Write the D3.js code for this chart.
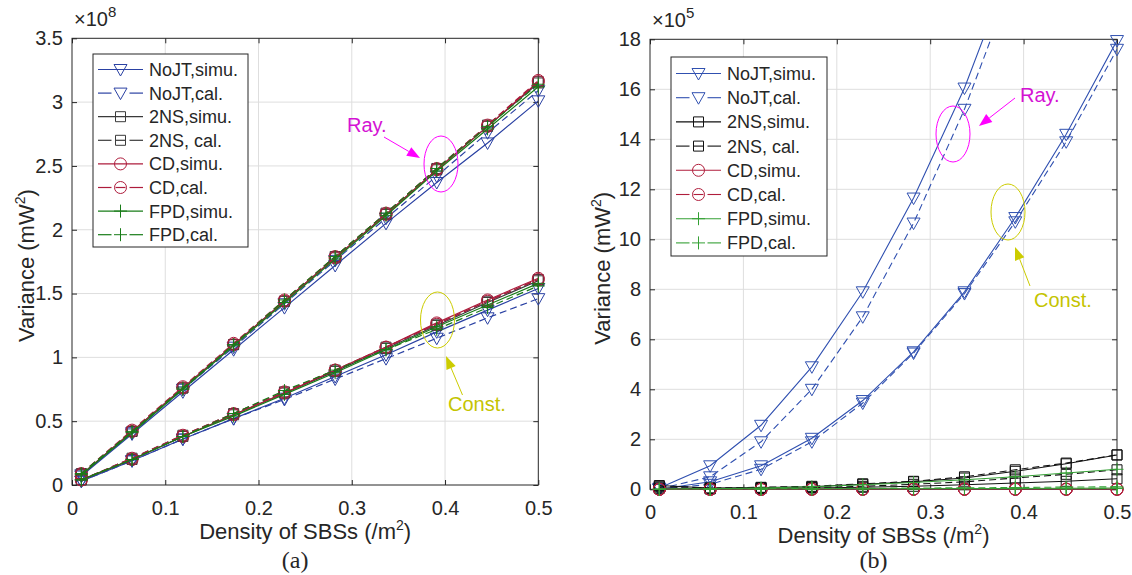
<!DOCTYPE html>
<html><head><meta charset="utf-8">
<script src="https://cdn.jsdelivr.net/npm/d3@7/dist/d3.min.js"></script>
<style>
body{margin:0;background:#fff}
text{font-family:"Liberation Sans",Arial,Helvetica,sans-serif;fill:#262626}
</style>
</head><body>
<svg id="c" width="1132" height="575"></svg>
<script>
// ---------------- data ----------------
const xVals = [0.01, 0.0644, 0.1189, 0.1733, 0.2278, 0.2822, 0.3367, 0.3911, 0.4456, 0.5];
const xTicks = [0, 0.1, 0.2, 0.3, 0.4, 0.5];
const xTickLabels = ["0", "0.1", "0.2", "0.3", "0.4", "0.5"];

// panel (a) ×1e8
const aYTicks = [0, 0.5, 1, 1.5, 2, 2.5, 3, 3.5];
const aYTickLabels = ["0", "0.5", "1", "1.5", "2", "2.5", "3", "3.5"];
const aNoJTSimuRay   = [0.07, 0.40, 0.73, 1.06, 1.39, 1.72, 2.05, 2.37, 2.68, 3.01];
const aNoJTCalRay    = [0.08, 0.41, 0.75, 1.08, 1.42, 1.76, 2.09, 2.42, 2.76, 3.09];
const aNoJTSimuConst = [0.03, 0.19, 0.36, 0.52, 0.68, 0.85, 1.02, 1.20, 1.37, 1.54];
const aNoJTCalConst  = [0.03, 0.19, 0.36, 0.52, 0.67, 0.83, 0.99, 1.15, 1.31, 1.46];
const a2NSSimuRay    = [0.08, 0.42, 0.76, 1.10, 1.44, 1.78, 2.12, 2.47, 2.81, 3.15];
const a2NSCalRay     = [0.09, 0.42, 0.76, 1.10, 1.44, 1.79, 2.13, 2.48, 2.82, 3.16];
const a2NSSimuConst  = [0.04, 0.20, 0.38, 0.55, 0.72, 0.89, 1.07, 1.25, 1.43, 1.60];
const a2NSCalConst   = [0.04, 0.21, 0.39, 0.56, 0.73, 0.90, 1.08, 1.26, 1.44, 1.61];
const aCDSimuRay     = [0.08, 0.42, 0.76, 1.10, 1.44, 1.78, 2.12, 2.47, 2.81, 3.16];
const aCDCalRay      = [0.09, 0.43, 0.77, 1.11, 1.45, 1.79, 2.13, 2.48, 2.82, 3.17];
const aCDSimuConst   = [0.04, 0.20, 0.38, 0.55, 0.72, 0.90, 1.08, 1.27, 1.45, 1.62];
const aCDCalConst    = [0.04, 0.21, 0.39, 0.56, 0.73, 0.90, 1.08, 1.26, 1.44, 1.61];
const aFPDSimuRay    = [0.08, 0.41, 0.75, 1.09, 1.43, 1.77, 2.11, 2.46, 2.79, 3.12];
const aFPDCalRay     = [0.09, 0.42, 0.76, 1.10, 1.45, 1.79, 2.13, 2.48, 2.81, 3.14];
const aFPDSimuConst  = [0.04, 0.20, 0.38, 0.54, 0.71, 0.88, 1.06, 1.24, 1.41, 1.58];
const aFPDCalConst   = [0.04, 0.20, 0.38, 0.56, 0.74, 0.90, 1.06, 1.22, 1.39, 1.56];

// panel (b) ×1e5
const bYTicks = [0, 2, 4, 6, 8, 10, 12, 14, 16, 18];
const bYTickLabels = ["0", "2", "4", "6", "8", "10", "12", "14", "16", "18"];
const bNoJTSimuRay   = [0.05, 0.94, 2.56, 4.9, 7.9, 11.65, 16.05, 21.4, 27.5, 34.5];
const bNoJTCalRay    = [0.02, 0.50, 1.90, 4.0, 6.9, 10.65, 15.2, 20.6, 26.7, 33.5];
const bNoJTSimuConst = [0.0, 0.30, 0.94, 2.04, 3.55, 5.5, 7.9, 10.87, 14.2, 17.95];
const bNoJTCalConst  = [0.0, 0.20, 0.80, 1.90, 3.45, 5.45, 7.83, 10.7, 13.9, 17.6];
const b2NSSimuRay    = [0.15, 0.05, 0.07, 0.10, 0.20, 0.30, 0.45, 0.72, 1.02, 1.37];
const b2NSCalRay     = [0.12, 0.05, 0.08, 0.12, 0.22, 0.32, 0.50, 0.78, 1.05, 1.38];
const b2NSSimuConst  = [0.05, 0.02, 0.03, 0.05, 0.08, 0.12, 0.18, 0.25, 0.32, 0.42];
const b2NSCalConst   = [0.05, 0.02, 0.04, 0.07, 0.12, 0.20, 0.30, 0.45, 0.60, 0.78];
const bCDSimuRay     = [0.0, 0.0, 0.0, 0.01, 0.01, 0.01, 0.01, 0.01, 0.01, 0.01];
const bCDCalRay      = [0.0, 0.0, 0.0, 0.01, 0.01, 0.01, 0.01, 0.01, 0.01, 0.01];
const bCDSimuConst   = [0.0, 0.0, 0.0, 0.0, 0.0, 0.0, 0.0, 0.0, 0.0, 0.0];
const bCDCalConst    = [0.0, 0.0, 0.0, 0.0, 0.0, 0.0, 0.0, 0.0, 0.0, 0.0];
const bFPDSimuRay    = [0.0, 0.02, 0.05, 0.10, 0.18, 0.27, 0.38, 0.50, 0.65, 0.80];
const bFPDCalRay     = [0.0, 0.01, 0.02, 0.03, 0.04, 0.05, 0.06, 0.07, 0.09, 0.10];
const bFPDSimuConst  = [0.0, 0.0, 0.01, 0.01, 0.02, 0.02, 0.03, 0.03, 0.04, 0.05];
const bFPDCalConst   = [0.0, 0.0, 0.0, 0.01, 0.01, 0.01, 0.02, 0.02, 0.02, 0.03];

const legendLabels = ["NoJT,simu.", "NoJT,cal.", "2NS,simu.", "2NS, cal.", "CD,simu.", "CD,cal.", "FPD,simu.", "FPD,cal."];

// ---------------- drawing ----------------
const svg = d3.select("#c");
const DASH = "7,4";

function markerPath(type) {
  if (type === "tri") return "M-6.5,-5L6.5,-5L0,6.5Z";
  if (type === "sq") return "M-5,-5H5V5H-5Z";
  if (type === "circ") return d3.arc()({innerRadius: 0, outerRadius: 6, startAngle: 0, endAngle: 2 * Math.PI});
  if (type === "plus") return "M-6.5,0H6.5M0,-6.5V6.5";
}

function panel(cfg) {
  const x = d3.scaleLinear().domain([0, 0.5]).range([cfg.l, cfg.r]);
  const y = d3.scaleLinear().domain([0, cfg.yMax]).range([cfg.b, cfg.t]);
  const g = svg.append("g");
  const W = cfg.r - cfg.l, H = cfg.b - cfg.t;

  // grid
  g.append("g").selectAll("line.gx").data(xTicks.slice(1, -1)).join("line")
    .attr("x1", d => x(d)).attr("x2", d => x(d)).attr("y1", cfg.t).attr("y2", cfg.b)
    .attr("stroke", "#dedede").attr("stroke-width", 1);
  g.append("g").selectAll("line.gy").data(cfg.yTicks.slice(1, -1)).join("line")
    .attr("y1", d => y(d)).attr("y2", d => y(d)).attr("x1", cfg.l).attr("x2", cfg.r)
    .attr("stroke", "#dedede").attr("stroke-width", 1);

  // axes with inward ticks
  const fs = "20px";
  const ax = g.append("g").attr("transform", `translate(0,${cfg.b})`)
    .call(d3.axisBottom(x).tickValues(xTicks).tickFormat((d, i) => xTickLabels[i]).tickSizeInner(-5).tickSizeOuter(0).tickPadding(16));
  const ax2 = g.append("g").attr("transform", `translate(0,${cfg.t})`)
    .call(d3.axisTop(x).tickValues(xTicks).tickFormat("").tickSizeInner(-5).tickSizeOuter(0));
  const ay = g.append("g").attr("transform", `translate(${cfg.l},0)`)
    .call(d3.axisLeft(y).tickValues(cfg.yTicks).tickFormat((d, i) => cfg.yTickLabels[i]).tickSizeInner(-5).tickSizeOuter(0).tickPadding(9));
  const ay2 = g.append("g").attr("transform", `translate(${cfg.r},0)`)
    .call(d3.axisRight(y).tickValues(cfg.yTicks).tickFormat("").tickSizeInner(-5).tickSizeOuter(0));
  [ax, ax2, ay, ay2].forEach(a => {
    a.select(".domain").remove();
    a.selectAll("line").attr("stroke", "#262626");
    a.selectAll("text").attr("font-size", fs).attr("font-family", '"Liberation Sans",Arial,sans-serif').attr("fill", "#262626");
  });
  g.append("rect").attr("x", cfg.l).attr("y", cfg.t).attr("width", W).attr("height", H)
    .attr("fill", "none").attr("stroke", "#262626").attr("stroke-width", 1);

  // exponent
  const ex = g.append("text").attr("x", cfg.l + 2).attr("y", cfg.t - 12).attr("font-size", "20px");
  ex.append("tspan").text("×10");
  ex.append("tspan").attr("dy", -9).attr("font-size", "15px").text(cfg.exp);

  // axis titles
  const xt = g.append("text").attr("x", (cfg.l + cfg.r) / 2).attr("y", cfg.b + 54)
    .attr("text-anchor", "middle").attr("font-size", "22px");
  xt.append("tspan").text("Density of SBSs (/m");
  xt.append("tspan").attr("dy", -9).attr("font-size", "14px").text("2");
  xt.append("tspan").attr("dy", 9).text(")");
  const yt = g.append("text").attr("transform", `translate(${cfg.yLabX},${(cfg.t + cfg.b) / 2 + 4}) rotate(-90)`)
    .attr("text-anchor", "middle").attr("font-size", "22px");
  yt.append("tspan").text("Variance (mW");
  yt.append("tspan").attr("dy", -9).attr("font-size", "14px").text("2");
  yt.append("tspan").attr("dy", 9).text(")");

  // panel label
  svg.append("text").attr("x", (cfg.l + cfg.r) / 2 - 10).attr("y", 568).attr("text-anchor", "middle")
    .attr("font-size", "24px").style("font-family", '"Liberation Serif","Times New Roman",serif').attr("fill", "#000").text(cfg.label);

  // clip
  const cid = "clip" + cfg.label.replace(/\W/g, "");
  svg.append("clipPath").attr("id", cid).append("rect").attr("x", cfg.l).attr("y", cfg.t).attr("width", W).attr("height", H);

  const line = d3.line().x((d, i) => x(xVals[i])).y(d => y(d));
  const dataG = g.append("g");
  cfg.series.forEach(s => {
    s.data.forEach(arr => {
      dataG.append("path").attr("d", line(arr)).attr("fill", "none").attr("stroke", s.color)
        .attr("stroke-width", cfg.lw).attr("stroke-dasharray", s.dash ? DASH : null)
        .attr("clip-path", `url(#${cid})`);
      dataG.append("g").selectAll("path").data(arr.map((v, i) => [xVals[i], v]).filter(d => d[1] <= cfg.yMax))
        .join("path").attr("transform", d => `translate(${x(d[0])},${y(d[1])})`)
        .attr("d", markerPath(s.marker)).attr("fill", "none").attr("stroke", s.color).attr("stroke-width", 1);
    });
  });

  // legend
  const lg = g.append("g");
  lg.append("rect").attr("x", cfg.lg.x).attr("y", cfg.lg.y).attr("width", cfg.lg.w).attr("height", cfg.lg.h)
    .attr("fill", "#fff").attr("stroke", "#262626").attr("stroke-width", 1);
  cfg.series.forEach((s, i) => {
    const cy = cfg.lg.y0 + i * cfg.lg.dy;
    const x0 = cfg.lg.x + 5, x1 = cfg.lg.x + 50, xm = (x0 + x1) / 2;
    if (s.dash) {
      lg.append("line").attr("x1", x0).attr("x2", xm - 9).attr("y1", cy).attr("y2", cy).attr("stroke", s.color).attr("stroke-width", cfg.lw);
      lg.append("line").attr("x1", xm + 9).attr("x2", x1).attr("y1", cy).attr("y2", cy).attr("stroke", s.color).attr("stroke-width", cfg.lw);
      if (s.marker === "sq" || s.marker === "circ")
        lg.append("line").attr("x1", xm - 5).attr("x2", xm + 5).attr("y1", cy).attr("y2", cy).attr("stroke", s.color).attr("stroke-width", cfg.lw);
    } else {
      lg.append("line").attr("x1", x0).attr("x2", x1).attr("y1", cy).attr("y2", cy).attr("stroke", s.color).attr("stroke-width", cfg.lw);
    }
    lg.append("path").attr("transform", `translate(${xm},${cy})`).attr("d", markerPath(s.marker))
      .attr("fill", "none").attr("stroke", s.color).attr("stroke-width", 1);
    lg.append("text").attr("x", cfg.lg.x + 56).attr("y", cy + 6.5).attr("font-size", "18px").attr("fill", "#000").text(legendLabels[i]);
  });

  // annotations
  cfg.notes.forEach(n => {
    g.append("ellipse").attr("cx", n.ex).attr("cy", n.ey).attr("rx", 17).attr("ry", 28)
      .attr("fill", "none").attr("stroke", n.color).attr("stroke-width", 1);
    const ang = Math.atan2(n.ay2 - n.ay1, n.ax2 - n.ax1);
    const L = 13, Wd = 5;
    const bx = n.ax2 - L * Math.cos(ang), by = n.ay2 - L * Math.sin(ang);
    g.append("line").attr("x1", n.ax1).attr("y1", n.ay1).attr("x2", bx).attr("y2", by).attr("stroke", n.color).attr("stroke-width", 1);
    g.append("path").attr("d", `M${n.ax2},${n.ay2}L${bx + Wd * Math.sin(ang)},${by - Wd * Math.cos(ang)}L${bx - Wd * Math.sin(ang)},${by + Wd * Math.cos(ang)}Z`)
      .attr("fill", n.color);
    g.append("text").attr("x", n.tx).attr("y", n.ty).attr("font-size", "20px").style("fill", n.tcolor).text(n.text);
  });
}

const blueA = "#2a41a3", greyA = "#3a3a3a", redA = "#ae1c3c", greenA = "#187c18";
const blueB = "#3050b0", greyB = "#111111", redB = "#b01e3c", greenB = "#34a034";
const MAG = "#ff00ff", MAGT = "#d412d4", YEL = "#cccc00", YELT = "#c4c400";

panel({
  l: 72, r: 538.3, t: 38.3, b: 485, yMax: 3.5, yTicks: aYTicks, yTickLabels: aYTickLabels, exp: "8",
  yLabX: 34, label: "(a)", lw: 1.2,
  series: [
    {color: blueA, dash: false, marker: "tri", data: [aNoJTSimuRay, aNoJTSimuConst]},
    {color: blueA, dash: true, marker: "tri", data: [aNoJTCalRay, aNoJTCalConst]},
    {color: greyA, dash: false, marker: "sq", data: [a2NSSimuRay, a2NSSimuConst]},
    {color: greyA, dash: true, marker: "sq", data: [a2NSCalRay, a2NSCalConst]},
    {color: redA, dash: false, marker: "circ", data: [aCDSimuRay, aCDSimuConst]},
    {color: redA, dash: true, marker: "circ", data: [aCDCalRay, aCDCalConst]},
    {color: greenA, dash: false, marker: "plus", data: [aFPDSimuRay, aFPDSimuConst]},
    {color: greenA, dash: true, marker: "plus", data: [aFPDCalRay, aFPDCalConst]}
  ],
  lg: {x: 93, y: 54, w: 155, h: 193, y0: 69.5, dy: 23.6},
  notes: [
    {text: "Ray.", tx: 347, ty: 132, tcolor: MAGT, color: MAG, ex: 441, ey: 164, ax1: 384, ay1: 137, ax2: 420, ay2: 158},
    {text: "Const.", tx: 448, ty: 411, tcolor: YELT, color: YEL, ex: 437.5, ey: 320, ax1: 462.5, ay1: 395, ax2: 446, ay2: 356}
  ]
});

panel({
  l: 650, r: 1117, t: 39.3, b: 489.3, yMax: 18, yTicks: bYTicks, yTickLabels: bYTickLabels, exp: "5",
  yLabX: 610, label: "(b)", lw: 1.1,
  series: [
    {color: blueB, dash: false, marker: "tri", data: [bNoJTSimuRay, bNoJTSimuConst]},
    {color: blueB, dash: true, marker: "tri", data: [bNoJTCalRay, bNoJTCalConst]},
    {color: greyB, dash: false, marker: "sq", data: [b2NSSimuRay, b2NSSimuConst]},
    {color: greyB, dash: true, marker: "sq", data: [b2NSCalRay, b2NSCalConst]},
    {color: redB, dash: false, marker: "circ", data: [bCDSimuRay, bCDSimuConst]},
    {color: redB, dash: true, marker: "circ", data: [bCDCalRay, bCDCalConst]},
    {color: greenB, dash: false, marker: "plus", data: [bFPDSimuRay, bFPDSimuConst]},
    {color: greenB, dash: true, marker: "plus", data: [bFPDCalRay, bFPDCalConst]}
  ],
  lg: {x: 671, y: 57, w: 156, h: 199, y0: 73.5, dy: 24.2},
  notes: [
    {text: "Ray.", tx: 1020, ty: 102, tcolor: MAGT, color: MAG, ex: 953, ey: 134, ax1: 1015, ay1: 98, ax2: 979, ay2: 126},
    {text: "Const.", tx: 1034, ty: 307, tcolor: YELT, color: YEL, ex: 1008, ey: 212, ax1: 1030, ay1: 286, ax2: 1015, ay2: 247}
  ]
});
</script>
</body></html>
